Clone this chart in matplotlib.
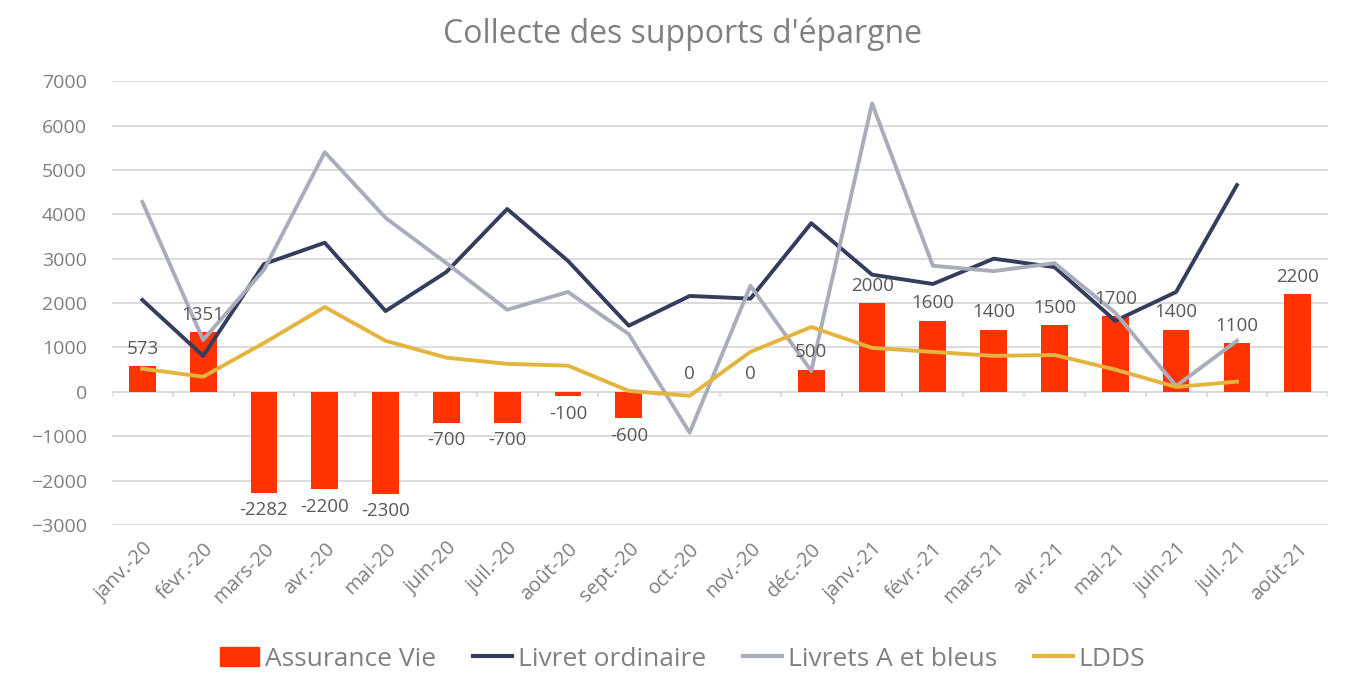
import numpy as np
import matplotlib.pyplot as plt
from matplotlib.patches import Patch
from matplotlib.lines import Line2D

plt.rcParams['font.family'] = ['Open Sans', 'DejaVu Sans']

mois = ["janv.-20", "févr.-20", "mars-20", "avr.-20", "mai-20", "juin-20", "juil.-20",
        "août-20", "sept.-20", "oct.-20", "nov.-20", "déc.-20", "janv.-21", "févr.-21",
        "mars-21", "avr.-21", "mai-21", "juin-21", "juil.-21", "août-21"]

assurance_vie = [573, 1351, -2282, -2200, -2300, -700, -700, -100, -600, 0, 0, 500,
                 2000, 1600, 1400, 1500, 1700, 1400, 1100, 2200]

livret_ordinaire = [2070, 810, 2880, 3360, 1820, 2700, 4120, 2950, 1490, 2160, 2100, 3800,
                    2640, 2430, 3000, 2810, 1600, 2250, 4660, np.nan]

livrets_a = [4280, 1170, 2750, 5400, 3920, 2900, 1850, 2250, 1300, -920, 2390, 470,
             6500, 2840, 2720, 2900, 1780, 130, 1150, np.nan]

ldds = [520, 340, 1100, 1910, 1150, 770, 630, 590, 20, -90, 900, 1460,
        990, 900, 810, 830, 500, 110, 230, np.nan]

c_bar = "#FF3300"
c_lo = "#343D5C"
c_la = "#A9ADBA"
c_ldds = "#E3B53F"
gris = "#808080"

fig = plt.figure(figsize=(13.65, 6.88), dpi=100)
ax = fig.add_axes([0.082, 0.237, 0.891, 0.645])

x = np.arange(len(mois))
ax.bar(x, assurance_vie, width=0.44, color=c_bar, zorder=2)
ax.plot(x, livret_ordinaire, color=c_lo, lw=2.8, zorder=3)
ax.plot(x, livrets_a, color=c_la, lw=2.8, zorder=3)
ax.plot(x, ldds, color=c_ldds, lw=2.8, zorder=3)

# étiquettes des barres
for xi, v in zip(x, assurance_vie):
    if v >= 0:
        ax.annotate(str(v), (xi, v), xytext=(0, 6), textcoords="offset points",
                    ha="center", va="bottom", fontsize=13.5, color="#595959", zorder=4)
    else:
        ax.annotate(str(v), (xi, v), xytext=(0, -6), textcoords="offset points",
                    ha="center", va="top", fontsize=13.5, color="#595959", zorder=4)

ax.set_xlim(-0.5, len(mois) - 0.5)
ax.set_ylim(-3000, 7000)
ax.set_yticks(range(-3000, 7001, 1000))
ax.grid(axis="y", color="#D9D9D9", lw=1.3, zorder=0)
ax.axhline(0, color="#D9D9D9", lw=1.5, zorder=1)
ax.vlines(np.arange(len(mois) + 1) - 0.5, -120, 0, color="#D9D9D9", lw=1.3, zorder=1)

for s in ax.spines.values():
    s.set_visible(False)

ax.set_xticks(x)
ax.set_xticklabels(mois, rotation=45, ha="right", rotation_mode="anchor")
ax.tick_params(axis="both", length=0, labelcolor=gris)
ax.tick_params(axis="x", pad=10, labelsize=14.5)
ax.tick_params(axis="y", pad=18, labelsize=14)

fig.suptitle("Collecte des supports d'épargne", y=0.975, fontsize=23, color=gris)

handles = [Patch(color=c_bar),
           Line2D([], [], color=c_lo, lw=3),
           Line2D([], [], color=c_la, lw=3),
           Line2D([], [], color=c_ldds, lw=3)]
labels = ["Assurance Vie", "Livret ordinaire", "Livrets A et bleus", "LDDS"]
fig.legend(handles, labels, loc="center", bbox_to_anchor=(0.5, 0.042), ncol=4,
           frameon=False, fontsize=19, labelcolor=gris, handlelength=1.5,
           handletextpad=0.2, columnspacing=1.4)

fig.savefig("out.png", dpi=100)
